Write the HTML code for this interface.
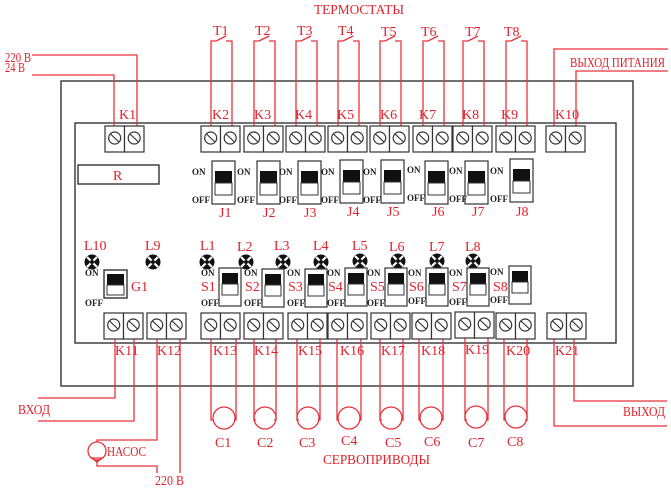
<!DOCTYPE html>
<html><head><meta charset="utf-8"><style>
html,body{margin:0;padding:0;background:#fff;width:671px;height:491px;overflow:hidden}
svg{display:block}
.r{fill:#e0222c;font-family:"Liberation Serif",serif;font-size:14px}
.k{fill:#222;font-family:"Liberation Serif",serif;font-size:9px;font-weight:bold}
.w{stroke:#e8323a;stroke-width:1.3;fill:none}
.b{stroke:#333;stroke-width:1.4;fill:none}
</style></head><body>
<svg width="671" height="491" viewBox="0 0 671 491" xmlns="http://www.w3.org/2000/svg">
<defs>
<g id="term"><rect x="0" y="0" width="19.5" height="26" fill="#fff" stroke="#333" stroke-width="1.2"/><rect x="19.5" y="0" width="19.5" height="26" fill="#fff" stroke="#333" stroke-width="1.2"/>
<circle cx="9.7" cy="12" r="6" fill="#fff" stroke="#333" stroke-width="1.2"/><line x1="5.5" y1="8" x2="14" y2="16" stroke="#333" stroke-width="1.2"/>
<circle cx="29.2" cy="12" r="6" fill="#fff" stroke="#333" stroke-width="1.2"/><line x1="25" y1="8" x2="33.5" y2="16" stroke="#333" stroke-width="1.2"/></g>
<g id="jsw"><rect x="0" y="0" width="23" height="43" fill="#fff" stroke="#333" stroke-width="1.2"/><rect x="3" y="10" width="17" height="12" fill="#111"/><rect x="3" y="22" width="17" height="12" fill="#fff" stroke="#333" stroke-width="1"/></g>
<g id="ssw"><rect x="0" y="0" width="22" height="38" fill="#fff" stroke="#333" stroke-width="1.2"/><rect x="3" y="5" width="16" height="11" fill="#111"/><rect x="3" y="16" width="16" height="11" fill="#fff" stroke="#333" stroke-width="1"/></g>
<g id="led"><circle cx="0" cy="0" r="7.5" fill="#111"/><line x1="-5" y1="-5" x2="5" y2="5" stroke="#fff" stroke-width="2.2"/><line x1="-5" y1="5" x2="5" y2="-5" stroke="#fff" stroke-width="2.2"/><circle cx="0" cy="0" r="2" fill="#111"/></g>
</defs>

<rect x="61" y="81" width="572" height="305" class="b"/>
<rect x="75" y="123" width="541" height="220" class="b"/>

<polyline class="w" points="32,55 137,55 137,138"/>
<polyline class="w" points="32,75 114,75 114,138"/>
<text x="5" y="62" class="r" font-size="12" textLength="26" lengthAdjust="spacingAndGlyphs">220 В</text>
<text x="5" y="72" class="r" font-size="12" textLength="20" lengthAdjust="spacingAndGlyphs">24 В</text>

<polyline class="w" points="554,138 554,49 668,49"/>
<polyline class="w" points="576,138 576,71 668,71"/>
<text x="570" y="67" class="r" font-size="13" textLength="95" lengthAdjust="spacingAndGlyphs">ВЫХОД ПИТАНИЯ</text>
<text x="314" y="14" class="r" font-size="14" textLength="90" lengthAdjust="spacingAndGlyphs">ТЕРМОСТАТЫ</text>

<g>
<polyline class="w" points="211,138 211,41 216,41"/><line class="w" x1="216" y1="41" x2="226" y2="36"/><polyline class="w" points="226,41 232,41 232,138"/>
<polyline class="w" points="254,138 254,41 259,41"/><line class="w" x1="259" y1="41" x2="269" y2="36"/><polyline class="w" points="269,41 275,41 275,138"/>
<polyline class="w" points="296,138 296,41 301,41"/><line class="w" x1="301" y1="41" x2="311" y2="36"/><polyline class="w" points="311,41 317,41 317,138"/>
<polyline class="w" points="338,138 338,41 343,41"/><line class="w" x1="343" y1="41" x2="353" y2="36"/><polyline class="w" points="353,41 359,41 359,138"/>
<polyline class="w" points="380,138 380,41 385,41"/><line class="w" x1="385" y1="41" x2="395" y2="36"/><polyline class="w" points="395,41 401,41 401,138"/>
<polyline class="w" points="423,138 423,41 428,41"/><line class="w" x1="428" y1="41" x2="438" y2="36"/><polyline class="w" points="438,41 444,41 444,138"/>
<polyline class="w" points="463,138 463,41 468,41"/><line class="w" x1="468" y1="41" x2="478" y2="36"/><polyline class="w" points="478,41 484,41 484,138"/>
<polyline class="w" points="506,138 506,41 511,41"/><line class="w" x1="511" y1="41" x2="521" y2="36"/><polyline class="w" points="521,41 527,41 527,138"/>
</g>
<text x="213" y="35" class="r">T1</text><text x="255" y="35" class="r">T2</text><text x="297" y="35" class="r">T3</text><text x="338" y="35" class="r">T4</text>
<text x="381" y="36" class="r">T5</text><text x="421" y="36" class="r">T6</text><text x="465" y="36" class="r">T7</text><text x="504" y="36" class="r">T8</text>

<use href="#term" x="105" y="126"/><use href="#term" x="201" y="126"/><use href="#term" x="244" y="126"/><use href="#term" x="286" y="126"/><use href="#term" x="328" y="126"/>
<use href="#term" x="370" y="126"/><use href="#term" x="413" y="126"/><use href="#term" x="453" y="126"/><use href="#term" x="496" y="126"/><use href="#term" x="546" y="126"/>
<text x="119" y="119" class="r" font-size="13">K1</text><text x="212" y="119" class="r" font-size="13">K2</text><text x="254" y="119" class="r" font-size="13">K3</text><text x="295" y="119" class="r" font-size="13">K4</text>
<text x="337" y="119" class="r" font-size="13">K5</text><text x="380" y="119" class="r" font-size="13">K6</text><text x="419" y="119" class="r" font-size="13">K7</text><text x="462" y="119" class="r" font-size="13">K8</text>
<text x="501" y="119" class="r" font-size="13">K9</text><text x="555" y="119" class="r" font-size="13">K10</text>

<rect x="78" y="165" width="81" height="19" class="b"/>
<text x="113" y="180" class="r" font-size="15">R</text>

<use href="#jsw" x="212" y="161"/><use href="#jsw" x="257" y="161"/><use href="#jsw" x="298" y="161"/><use href="#jsw" x="340" y="160"/>
<use href="#jsw" x="381" y="160"/><use href="#jsw" x="425" y="161"/><use href="#jsw" x="465" y="161"/><use href="#jsw" x="510" y="159"/>
<text x="192" y="175" class="k">ON</text><text x="192" y="203" class="k">OFF</text>
<text x="237" y="175" class="k">ON</text><text x="237" y="203" class="k">OFF</text>
<text x="279" y="175" class="k">ON</text><text x="279" y="203" class="k">OFF</text>
<text x="321" y="175" class="k">ON</text><text x="321" y="203" class="k">OFF</text>
<text x="363" y="175" class="k">ON</text><text x="363" y="203" class="k">OFF</text>
<text x="407" y="173" class="k">ON</text><text x="407" y="201" class="k">OFF</text>
<text x="449" y="174" class="k">ON</text><text x="449" y="202" class="k">OFF</text>
<text x="490" y="174" class="k">ON</text><text x="490" y="202" class="k">OFF</text>
<text x="219" y="217" class="r" font-size="13">J1</text><text x="263" y="217" class="r" font-size="13">J2</text><text x="304" y="217" class="r" font-size="13">J3</text><text x="347" y="216" class="r" font-size="13">J4</text>
<text x="387" y="216" class="r" font-size="13">J5</text><text x="432" y="216" class="r" font-size="13">J6</text><text x="472" y="216" class="r" font-size="13">J7</text><text x="516" y="216" class="r" font-size="13">J8</text>

<text x="84" y="250" class="r" font-size="15">L10</text><text x="145" y="250" class="r" font-size="15">L9</text><text x="200" y="250" class="r" font-size="15">L1</text><text x="237" y="251" class="r" font-size="15">L2</text>
<text x="274" y="250" class="r" font-size="15">L3</text><text x="313" y="250" class="r" font-size="15">L4</text><text x="352" y="250" class="r" font-size="15">L5</text><text x="389" y="251" class="r" font-size="15">L6</text>
<text x="429" y="251" class="r" font-size="15">L7</text><text x="465" y="251" class="r" font-size="15">L8</text>
<use href="#led" x="92" y="262"/><use href="#led" x="153" y="262"/><use href="#led" x="207" y="262"/><use href="#led" x="246" y="262"/><use href="#led" x="283" y="262"/>
<use href="#led" x="321" y="262"/><use href="#led" x="360" y="261"/><use href="#led" x="398" y="261"/><use href="#led" x="437" y="261"/><use href="#led" x="473" y="261"/>

<rect x="104" y="270" width="23" height="28" class="b"/><rect x="107" y="274" width="17" height="11" fill="#111"/><rect x="107" y="285" width="17" height="10" fill="#fff" stroke="#333"/>
<text x="85" y="276" class="k">ON</text><text x="85" y="306" class="k">OFF</text><text x="131" y="291" class="r">G1</text>
<use href="#ssw" x="219" y="268"/><use href="#ssw" x="262" y="269"/><use href="#ssw" x="305" y="269"/><use href="#ssw" x="345" y="268"/>
<use href="#ssw" x="385" y="268"/><use href="#ssw" x="426" y="268"/><use href="#ssw" x="467" y="268"/><use href="#ssw" x="509" y="266"/>
<text x="201" y="276" class="k">ON</text><text x="201" y="306" class="k">OFF</text>
<text x="244" y="276" class="k">ON</text><text x="244" y="306" class="k">OFF</text>
<text x="287" y="276" class="k">ON</text><text x="287" y="306" class="k">OFF</text>
<text x="327" y="276" class="k">ON</text><text x="327" y="306" class="k">OFF</text>
<text x="367" y="276" class="k">ON</text><text x="367" y="306" class="k">OFF</text>
<text x="408" y="276" class="k">ON</text><text x="408" y="304" class="k">OFF</text>
<text x="449" y="276" class="k">ON</text><text x="449" y="305" class="k">OFF</text>
<text x="490" y="275" class="k">ON</text><text x="490" y="303" class="k">OFF</text>
<text x="201" y="291" class="r">S1</text><text x="245" y="291" class="r">S2</text><text x="288" y="291" class="r">S3</text><text x="328" y="291" class="r">S4</text>
<text x="370" y="291" class="r">S5</text><text x="409" y="291" class="r">S6</text><text x="452" y="291" class="r">S7</text><text x="493" y="291" class="r">S8</text>

<polyline class="w" points="115,325 115,398 38,398"/>
<polyline class="w" points="134,325 134,421 38,421"/>
<text x="18" y="414" class="r" font-size="13" textLength="32" lengthAdjust="spacingAndGlyphs">ВХОД</text>
<polyline class="w" points="157,325 157,440 97,440 97,442"/>
<circle cx="97" cy="451" r="9" class="w"/>
<path d="M92,458 L102,458 L97,462 Z" class="w"/>
<polyline class="w" points="97,460 97,466 157,466 157,473"/>
<polyline class="w" points="180,325 180,473"/>
<text x="107" y="456" class="r" font-size="13" textLength="39" lengthAdjust="spacingAndGlyphs">НАСОС</text>
<text x="155" y="485" class="r" font-size="12" textLength="29" lengthAdjust="spacingAndGlyphs">220 В</text>

<polyline class="w" points="554,325 554,426 667,426"/>
<polyline class="w" points="574,325 574,401 667,401"/>
<text x="623" y="416" class="r" font-size="13" textLength="42" lengthAdjust="spacingAndGlyphs">ВЫХОД</text>

<g>
<polyline class="w" points="211,325 211,420 213,420"/><polyline class="w" points="236,325 236,420 234,420"/><circle cx="224" cy="418" r="11" class="w"/>
<polyline class="w" points="254,325 254,420 256,420"/><polyline class="w" points="276,325 276,420 274,420"/><circle cx="265" cy="418" r="11" class="w"/>
<polyline class="w" points="297,325 297,420 299,420"/><polyline class="w" points="320,325 320,420 318,420"/><circle cx="308" cy="418" r="11" class="w"/>
<polyline class="w" points="337,325 337,420 339,420"/><polyline class="w" points="361,325 361,420 359,420"/><circle cx="349" cy="418" r="11" class="w"/>
<polyline class="w" points="380,325 380,420 382,420"/><polyline class="w" points="403,325 403,420 401,420"/><circle cx="391" cy="418" r="11" class="w"/>
<polyline class="w" points="419,325 419,420 421,420"/><polyline class="w" points="443,325 443,420 441,420"/><circle cx="431" cy="418" r="11" class="w"/>
<polyline class="w" points="465,325 465,420 467,420"/><polyline class="w" points="488,325 488,420 486,420"/><circle cx="476" cy="417" r="11" class="w"/>
<polyline class="w" points="504,325 504,420 506,420"/><polyline class="w" points="527,325 527,420 525,420"/><circle cx="516" cy="417" r="11" class="w"/>
</g>
<text x="215" y="447" class="r" font-size="15">C1</text><text x="257" y="447" class="r" font-size="15">C2</text><text x="299" y="447" class="r" font-size="15">C3</text><text x="341" y="445" class="r" font-size="15">C4</text>
<text x="385" y="447" class="r" font-size="15">C5</text><text x="424" y="446" class="r" font-size="15">C6</text><text x="468" y="447" class="r" font-size="15">C7</text><text x="507" y="446" class="r" font-size="15">C8</text>
<text x="323" y="464" class="r" font-size="14" textLength="107" lengthAdjust="spacingAndGlyphs">СЕРВОПРИВОДЫ</text>

<use href="#term" x="104" y="313"/><use href="#term" x="147" y="313"/><use href="#term" x="201" y="313"/><use href="#term" x="244" y="313"/><use href="#term" x="288" y="313"/>
<use href="#term" x="328" y="313"/><use href="#term" x="371" y="313"/><use href="#term" x="412" y="313"/><use href="#term" x="455" y="312"/><use href="#term" x="496" y="313"/><use href="#term" x="547" y="313"/>
<text x="115" y="355" class="r" font-size="12">K11</text><text x="157" y="355" class="r" font-size="12">K12</text><text x="213" y="355" class="r" font-size="12">K13</text><text x="254" y="355" class="r" font-size="12">K14</text>
<text x="298" y="355" class="r" font-size="12">K15</text><text x="340" y="355" class="r" font-size="12">K16</text><text x="381" y="355" class="r" font-size="12">K17</text><text x="421" y="355" class="r" font-size="12">K18</text>
<text x="465" y="354" class="r" font-size="12">K19</text><text x="506" y="355" class="r" font-size="12">K20</text><text x="555" y="355" class="r" font-size="12">K21</text>
</svg>
</body></html>
